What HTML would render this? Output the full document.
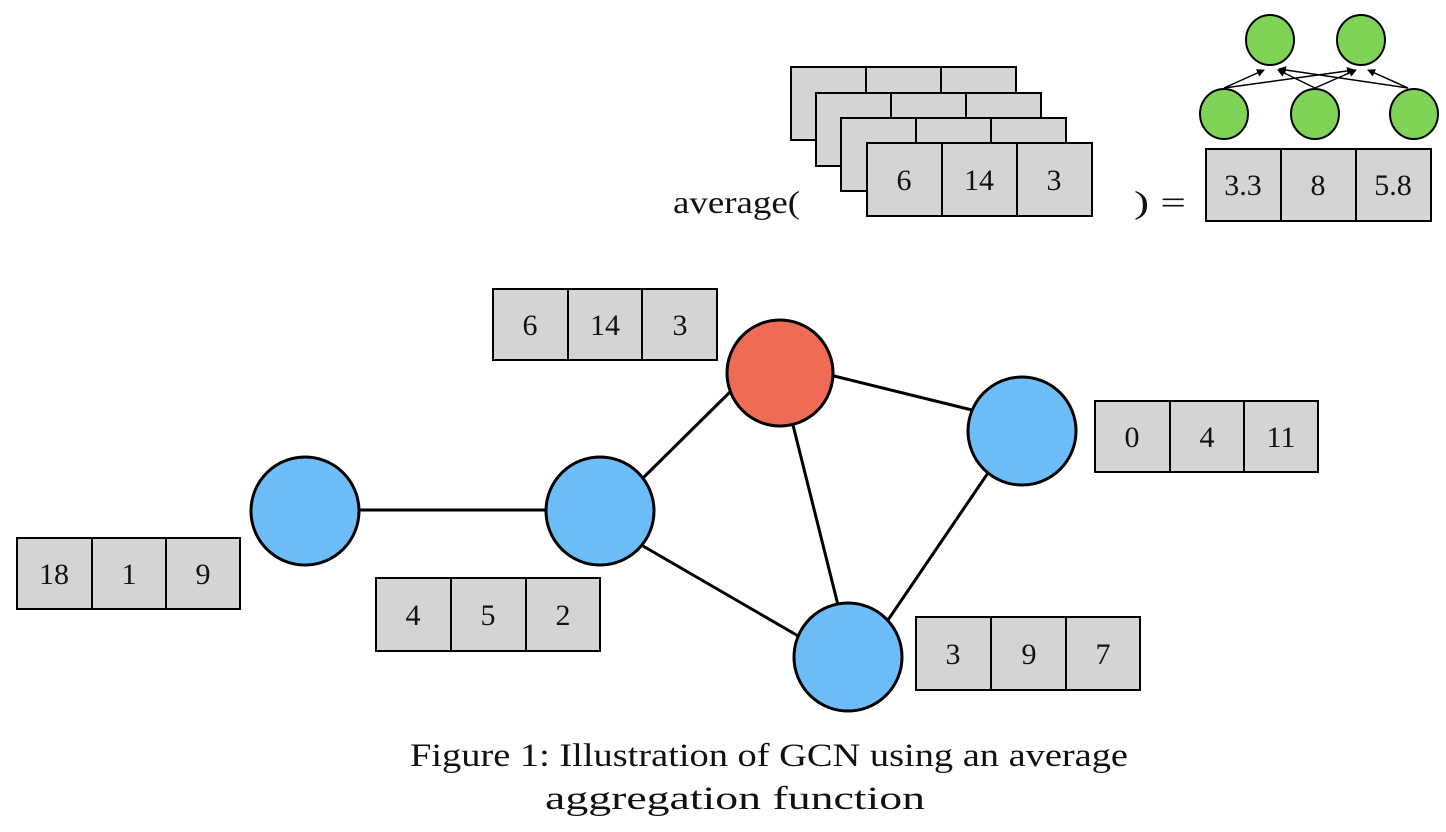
<!DOCTYPE html>
<html><head><meta charset="utf-8"><style>
html,body{margin:0;padding:0;background:#fff;}
svg{display:block;}
text{font-family:"Liberation Serif",serif;fill:#111;}
</style></head><body>
<svg width="1446" height="832" viewBox="0 0 1446 832" xmlns="http://www.w3.org/2000/svg">
<defs>
<marker id="ah" markerWidth="8" markerHeight="8" refX="7" refY="4" orient="auto" markerUnits="userSpaceOnUse">
<path d="M0,0 L8,4 L0,8 Z" fill="#000"/></marker>
</defs>
<g stroke="#000" stroke-width="2" fill="#d4d4d4" font-size="30" text-anchor="middle">
<g><rect x="791" y="67" width="225" height="73"/><line x1="866" y1="67" x2="866" y2="140"/><line x1="941" y1="67" x2="941" y2="140"/>
<text x="828" y="113" stroke="none">0</text><text x="903" y="113" stroke="none">4</text><text x="978" y="113" stroke="none">11</text></g>
<g><rect x="816" y="93" width="225" height="73"/><line x1="891" y1="93" x2="891" y2="166"/><line x1="966" y1="93" x2="966" y2="166"/>
<text x="853" y="139" stroke="none">4</text><text x="928" y="139" stroke="none">5</text><text x="1003" y="139" stroke="none">2</text></g>
<g><rect x="841" y="118" width="225" height="73"/><line x1="916" y1="118" x2="916" y2="191"/><line x1="991" y1="118" x2="991" y2="191"/>
<text x="878" y="164" stroke="none">3</text><text x="953" y="164" stroke="none">9</text><text x="1028" y="164" stroke="none">7</text></g>
<g><rect x="867" y="143" width="225" height="73"/><line x1="942" y1="143" x2="942" y2="216"/><line x1="1017" y1="143" x2="1017" y2="216"/>
<text x="904" y="190" stroke="none">6</text><text x="979" y="190" stroke="none">14</text><text x="1054" y="190" stroke="none">3</text></g>
<g><rect x="1206" y="149" width="225" height="72"/><line x1="1281" y1="149" x2="1281" y2="221"/><line x1="1356" y1="149" x2="1356" y2="221"/>
<text x="1243" y="195" stroke="none">3.3</text><text x="1318" y="195" stroke="none">8</text><text x="1393" y="195" stroke="none">5.8</text></g>
<g><rect x="493" y="289" width="224" height="71"/><line x1="568" y1="289" x2="568" y2="360"/><line x1="642" y1="289" x2="642" y2="360"/>
<text x="530" y="335" stroke="none">6</text><text x="605" y="335" stroke="none">14</text><text x="680" y="335" stroke="none">3</text></g>
<g><rect x="1095" y="401" width="223" height="71"/><line x1="1170" y1="401" x2="1170" y2="472"/><line x1="1244" y1="401" x2="1244" y2="472"/>
<text x="1132" y="447" stroke="none">0</text><text x="1207" y="447" stroke="none">4</text><text x="1281" y="447" stroke="none">11</text></g>
<g><rect x="17" y="538" width="223" height="71"/><line x1="92" y1="538" x2="92" y2="609"/><line x1="166" y1="538" x2="166" y2="609"/>
<text x="54" y="584" stroke="none">18</text><text x="129" y="584" stroke="none">1</text><text x="203" y="584" stroke="none">9</text></g>
<g><rect x="376" y="578" width="224" height="73"/><line x1="451" y1="578" x2="451" y2="651"/><line x1="526" y1="578" x2="526" y2="651"/>
<text x="413" y="625" stroke="none">4</text><text x="488" y="625" stroke="none">5</text><text x="563" y="625" stroke="none">2</text></g>
<g><rect x="916" y="617" width="224" height="73"/><line x1="991" y1="617" x2="991" y2="690"/><line x1="1066" y1="617" x2="1066" y2="690"/>
<text x="953" y="664" stroke="none">3</text><text x="1029" y="664" stroke="none">9</text><text x="1103" y="664" stroke="none">7</text></g>
</g>
<text x="673" y="213" font-size="32" textLength="127" lengthAdjust="spacingAndGlyphs">average(</text>
<text x="1134" y="213" font-size="32" textLength="52" lengthAdjust="spacingAndGlyphs">) =</text>
<g stroke="#000" stroke-width="1.5" marker-end="url(#ah)">
<line x1="1224" y1="88" x2="1264" y2="70"/>
<line x1="1224" y1="88" x2="1354" y2="70"/>
<line x1="1315" y1="88" x2="1278" y2="70"/>
<line x1="1315" y1="88" x2="1356" y2="70"/>
<line x1="1408" y1="88" x2="1279" y2="69"/>
<line x1="1408" y1="88" x2="1368" y2="70"/>
</g>
<g fill="#7fd356" stroke="#000" stroke-width="2">
<ellipse cx="1270" cy="40" rx="24" ry="25"/>
<ellipse cx="1361" cy="40" rx="24" ry="25"/>
<ellipse cx="1224" cy="114" rx="24" ry="25"/>
<ellipse cx="1315" cy="114" rx="24" ry="25"/>
<ellipse cx="1414" cy="114" rx="24" ry="25"/>
</g>
<g stroke="#000" stroke-width="3">
<line x1="359" y1="510" x2="546" y2="510"/>
<line x1="643" y1="478" x2="732" y2="390"/>
<line x1="643" y1="546" x2="800" y2="637"/>
<line x1="830" y1="375" x2="972" y2="410"/>
<line x1="793" y1="425" x2="838" y2="605"/>
<line x1="990" y1="470" x2="888" y2="620"/>
</g>
<g stroke="#000" stroke-width="3">
<circle cx="780" cy="373" r="53" fill="#ee6c55"/>
<circle cx="305" cy="511" r="54" fill="#6dbdf8"/>
<circle cx="600" cy="511" r="54" fill="#6dbdf8"/>
<circle cx="1022" cy="431" r="54" fill="#6dbdf8"/>
<circle cx="848" cy="657" r="54" fill="#6dbdf8"/>
</g>
<text x="769" y="766" font-size="33" text-anchor="middle" textLength="718" lengthAdjust="spacingAndGlyphs">Figure 1: Illustration of GCN using an average</text>
<text x="735" y="809" font-size="33" text-anchor="middle" textLength="380" lengthAdjust="spacingAndGlyphs">aggregation function</text>
</svg>
</body></html>
